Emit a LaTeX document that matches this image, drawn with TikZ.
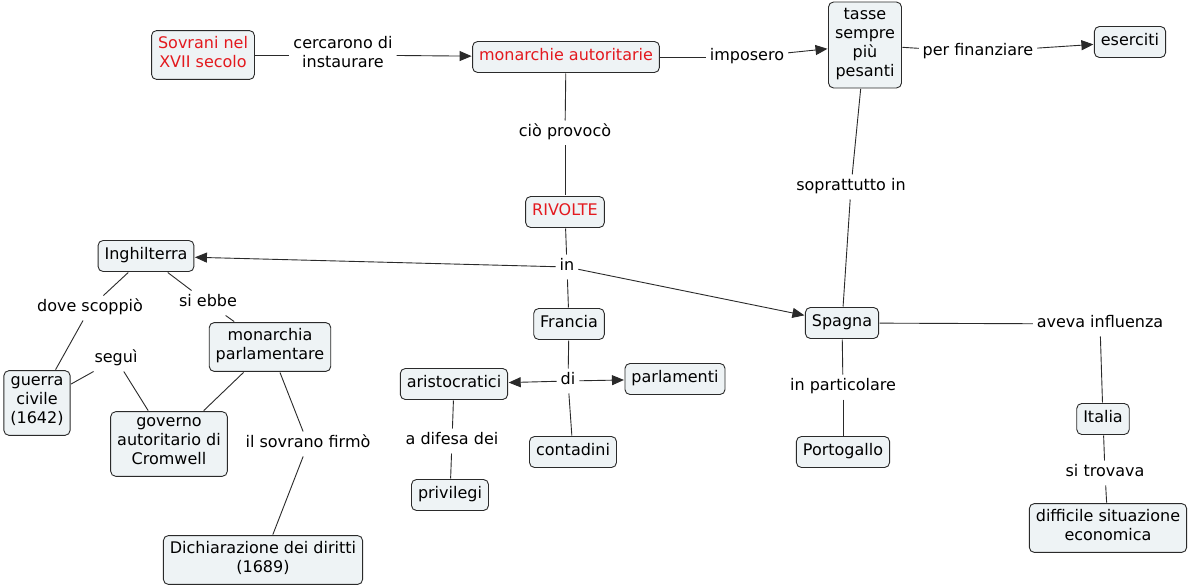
\documentclass[tikz,border=0pt]{standalone}
\usepackage{fontspec}
\setmainfont{DejaVu Sans}
\usetikzlibrary{arrows.meta}
\definecolor{boxfill}{HTML}{EEF3F5}
\definecolor{boxline}{HTML}{2A2A2A}
\definecolor{redtxt}{HTML}{E3191E}
\begin{document}
\begin{tikzpicture}[x=1pt,y=-1pt,
  txtfont/.style={font=\fontsize{16}{19}\selectfont},
  concept/.style={txtfont, draw=boxline, fill=boxfill, rounded corners=5pt,
    line width=0.9pt, align=center, inner xsep=6.5pt, inner ysep=6pt,
    execute at begin node=\strut, execute at end node=\strut, outer sep=1pt},
  redconcept/.style={concept, text=redtxt},
  phrase/.style={txtfont, align=center, inner xsep=2.5pt, inner ysep=1.5pt,
    execute at begin node=\strut, execute at end node=\strut, outer sep=1.5pt},
  link/.style={draw=boxline, line width=0.9pt},
  arrowlink/.style={link, -{Triangle[length=12pt,width=10pt]}}
]
\fill[white] (0,0) rectangle (1189,588);
\useasboundingbox (0,0) rectangle (1189,588);

% concepts
\node[redconcept] (sov) at (203,55) {Sovrani nel\\XVII secolo};
\node[redconcept] (mon) at (566,57) {monarchie autoritarie};
\node[concept] (tas) at (865,45) {tasse\\sempre\\più\\pesanti};
\node[concept] (ese) at (1130,42) {eserciti};
\node[redconcept] (riv) at (565,212) {RIVOLTE};
\node[concept] (ing) at (146,256) {Inghilterra};
\node[concept] (fra) at (569,324) {Francia};
\node[concept] (spa) at (842,323) {Spagna};
\node[concept] (mpa) at (270,347) {monarchia\\parlamentare};
\node[concept] (gue) at (37,403) {guerra\\civile\\(1642)};
\node[concept] (gov) at (169,444) {governo\\autoritario di\\Cromwell};
\node[concept] (dic) at (263,560) {Dichiarazione dei diritti\\(1689)};
\node[concept] (ari) at (454,384) {aristocratici};
\node[concept] (par) at (675,379) {parlamenti};
\node[concept] (con) at (573,452) {contadini};
\node[concept] (pri) at (450,495) {privilegi};
\node[concept] (por) at (843,452) {Portogallo};
\node[concept] (ita) at (1103,419) {Italia};
\node[concept] (dif) at (1108,528) {difficile situazione\\economica};

% linking phrases
\node[phrase] (l1) at (343,55) {cercarono di\\instaurare};
\node[phrase] (l2) at (747,57) {imposero};
\node[phrase] (l3) at (978,52) {per finanziare};
\node[phrase] (l4) at (565,133) {ciò provocò};
\node[phrase] (l5) at (851,187) {soprattutto in};
\node[phrase] (l6) at (567,267) {in};
\node[phrase] (l7) at (90,308) {dove scoppiò};
\node[phrase] (l8) at (208,303) {si ebbe};
\node[phrase] (l9) at (116,359) {seguì};
\node[phrase] (l10) at (308,444) {il sovrano firmò};
\node[phrase] (l11) at (568,381) {di};
\node[phrase] (l12) at (452,441) {a difesa dei};
\node[phrase] (l13) at (1100,324) {aveva influenza};
\node[phrase] (l14) at (843,387) {in particolare};
\node[phrase] (l15) at (1105,473) {si trovava};

% connectors
\draw[link] (sov) -- (l1);
\draw[arrowlink] (l1) -- (mon);
\draw[link] (mon) -- (l2);
\draw[arrowlink] (l2) -- (tas);
\draw[link] (tas) -- (l3);
\draw[arrowlink] (l3) -- (ese);
\draw[link] (mon) -- (l4);
\draw[link] (l4) -- (riv);
\draw[link] (tas) -- (l5);
\draw[link] (l5) -- (spa);
\draw[link] (riv) -- (l6);
\draw[arrowlink] (l6) -- (ing);
\draw[arrowlink] (l6) -- (spa);
\draw[link] (l6) -- (fra);
\draw[link] (ing) -- (l7);
\draw[link] (l7) -- (gue);
\draw[link] (ing) -- (l8);
\draw[link] (l8) -- (mpa);
\draw[link] (gue) -- (l9);
\draw[link] (l9) -- (gov);
\draw[link] (mpa) -- (gov);
\draw[link] (mpa) -- (l10);
\draw[link] (l10) -- (dic);
\draw[link] (fra) -- (l11);
\draw[arrowlink] (l11) -- (ari);
\draw[arrowlink] (l11) -- (par);
\draw[link] (l11) -- (con);
\draw[link] (ari) -- (l12);
\draw[link] (l12) -- (pri);
\draw[link] (spa) -- (l13);
\draw[link] (l13) -- (ita);
\draw[link] (spa) -- (l14);
\draw[link] (l14) -- (por);
\draw[link] (ita) -- (l15);
\draw[link] (l15) -- (dif);
\end{tikzpicture}
\end{document}
